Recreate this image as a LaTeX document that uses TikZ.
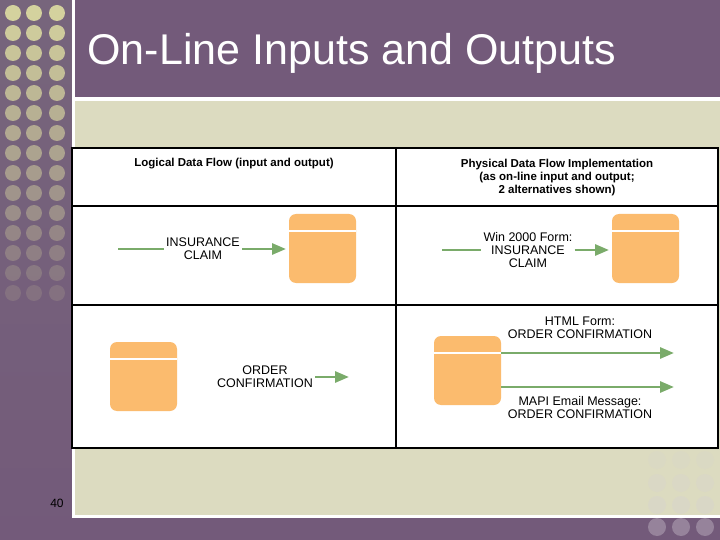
\documentclass[tikz,border=0pt]{standalone}
\usepackage{fontspec}
\setmainfont{Liberation Sans}
\usetikzlibrary{arrows.meta,positioning}
\definecolor{slidepurple}{HTML}{735A7A}
\definecolor{slidebeige}{HTML}{DCDBC0}
\definecolor{dotbeige}{HTML}{D4D29E}
\definecolor{storeorange}{HTML}{FBBB6E}
\definecolor{flowgreen}{HTML}{7AAB6A}
\tikzset{
  store/.style={rounded corners=7pt, fill=storeorange, draw=none},
  flow/.style={draw=flowgreen, line width=2.8pt, -{Triangle[length=14pt,width=11pt]}},
  plain/.style={draw=flowgreen, line width=2.8pt},
  lbl/.style={align=center, font=\fontsize{12.5}{13}\selectfont, inner sep=2pt},
  head/.style={align=center, font=\bfseries\fontsize{11.5}{13}\selectfont, inner sep=1pt}
}
\newcommand{\drawstore}[3]{% name, x, y (top left)
  \fill[store] (#2,#3) rectangle ++(67,69);
  \draw[white, line width=1.2pt] (#2,#3+17) -- ++(67,0);
  \coordinate (#1w) at (#2,#3+34.5);
  \coordinate (#1e) at (#2+67,#3+34.5);
}
\begin{document}
\begin{tikzpicture}[x=1pt,y=-1pt]
  \useasboundingbox (0,0) rectangle (720,540);
  % background
  \shade[top color=slidepurple!70!gray, bottom color=slidepurple] (0,0) rectangle (72,540);
  \fill[white] (72,0) rectangle (75,540);
  \fill[slidepurple] (75,0) rectangle (720,97);
  \fill[slidebeige] (75,101) rectangle (720,515);
  \fill[slidepurple] (0,518) rectangle (720,540);
  \foreach \i in {0,...,14}
    \foreach \x in {13,34,57}
      \fill[dotbeige, opacity={1-\i*0.06}] (\x,{13+\i*20}) circle (8);
  \foreach \y/\o in {460/0.15,483/0.22,505/0.3}
    \foreach \x in {657,681,705}
      \fill[slidepurple!30!white, opacity=\o] (\x,\y) circle (9);
  \foreach \x in {657,681,705}
    \fill[white, opacity=0.25] (\x,527) circle (9);
  \node[anchor=base west, text=white, font=\fontsize{43}{43}\selectfont] (title) at (84,65) {On-Line Inputs and Outputs};
  \node[font=\fontsize{12}{12}\selectfont] (pagenum) at (57,503) {40};
  % table
  \draw[fill=white, line width=1.2pt] (72,148) rectangle (718,448);
  \draw[line width=1.2pt] (72,206) -- (718,206) (72,305) -- (718,305) (396,148) -- (396,448);
  \node[head] (hleft) at (234,164) {Logical Data Flow (input and output)};
  \node[head] (hright) at (557,178) {Physical Data Flow Implementation\\(as on-line input and output;\\2 alternatives shown)};
  % input row
  \drawstore{inL}{289}{214}
  \node[lbl] (claimL) at (203,249) {INSURANCE\\CLAIM};
  \coordinate (srcL) at (118,249);
  \draw[plain] (srcL) -- (claimL.west);
  \draw[flow] (claimL.east) -- ([xshift=-3pt]inLw |- claimL);
  \drawstore{inR}{612}{214}
  \node[lbl] (claimR) at (528,250) {Win 2000 Form:\\INSURANCE\\CLAIM};
  \coordinate (srcR) at (442,250);
  \draw[plain] (srcR) -- (claimR.west);
  \draw[flow] (claimR.east) -- ([xshift=-3pt]inRw |- claimR);
  % output row
  \drawstore{outL}{110}{342}
  \node[lbl] (orderL) at (265,377) {ORDER\\CONFIRMATION};
  \coordinate (dstL) at (349,377);
  \draw[flow] (orderL.east) -- (dstL);
  \drawstore{outR}{434}{336}
  \coordinate (dstA) at (674,353);
  \coordinate (dstB) at (674,387);
  \draw[flow] (outRe |- dstA) -- (dstA);
  \draw[flow] (outRe |- dstB) -- (dstB);
  \node[lbl] (html) at (580,328) {HTML Form:\\ORDER CONFIRMATION};
  \node[lbl] (mapi) at (580,408) {MAPI Email Message:\\ORDER CONFIRMATION};
\end{tikzpicture}
\end{document}
